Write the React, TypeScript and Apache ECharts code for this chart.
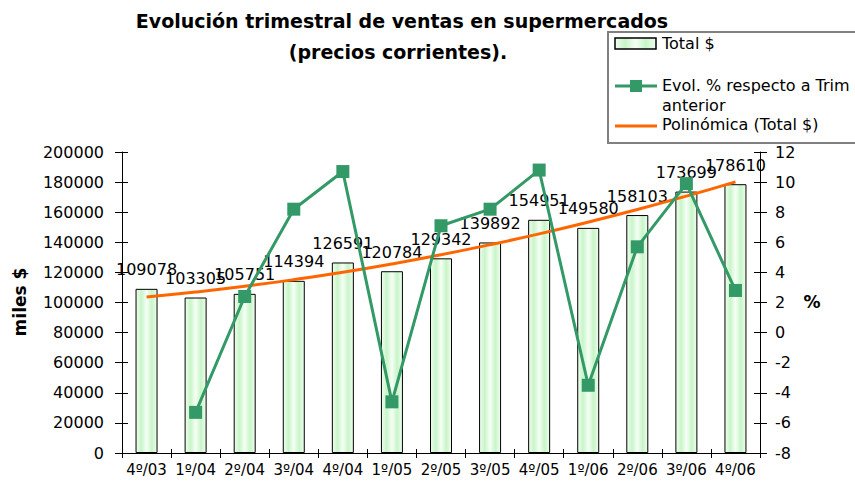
import React, { useEffect, useRef } from "react";
import * as echarts from "echarts";

const categories = ["4º/03", "1º/04", "2º/04", "3º/04", "4º/04", "1º/05", "2º/05", "3º/05", "4º/05", "1º/06", "2º/06", "3º/06", "4º/06"];
const totalValues = [109078, 103305, 105751, 114394, 126591, 120784, 129342, 139892, 154951, 149580, 158103, 173699, 178610];
const evolPct: (number | null)[] = [null, -5.3, 2.4, 8.2, 10.7, -4.6, 7.1, 8.2, 10.8, -3.5, 5.7, 9.9, 2.8];
const trendValues = [103710, 106960, 110770, 115160, 120110, 125630, 131720, 138380, 145600, 153400, 161760, 170690, 180190];

const titleLines = ["Evolución trimestral de ventas en supermercados", "(precios corrientes)."];
const legendNames = ["Total $", "Evol. % respecto a Trim", "anterior", "Polinómica (Total $)"];
const leftAxisName = "miles $";
const rightAxisName = "%";

const FONT = "DejaVu Sans";
const GREEN = "#339966";
const ORANGE = "#ff6600";

const barGradient = () =>
  new echarts.graphic.LinearGradient(0, 0, 1, 0, [
    { offset: 0, color: "#f0fdf0" },
    { offset: 0.25, color: "#c8f5c8" },
    { offset: 0.5, color: "#f6fff6" },
    { offset: 0.75, color: "#c8f5c8" },
    { offset: 1, color: "#f0fdf0" },
  ]);

const plainNum = (v: number) => String(v);

export default function App() {
  const ref = useRef<HTMLDivElement>(null);
  useEffect(() => {
    if (!ref.current) return;
    const chart = echarts.init(ref.current, undefined, { renderer: "svg" });
    const leftScale = { type: "value", min: 0, max: 200000, interval: 20000, position: "left", splitLine: { show: false } };
    const rightScale = { type: "value", min: -8, max: 12, interval: 2, position: "right", splitLine: { show: false } };
    chart.setOption({
      animation: false,
      backgroundColor: "#ffffff",
      textStyle: { fontFamily: FONT, color: "#000" },
      grid: { left: 122, right: 95, top: 152, bottom: 34, containLabel: false },
      xAxis: [
        {
          type: "category",
          data: categories,
          boundaryGap: true,
          axisLine: { onZero: false, lineStyle: { color: "#000", width: 1 } },
          axisTick: { show: true, alignWithLabel: false, length: 5, lineStyle: { color: "#000" } },
          axisLabel: { fontFamily: FONT, fontSize: 15, color: "#000", margin: 9, interval: 0 },
        },
        {
          type: "category",
          data: categories,
          position: "bottom",
          boundaryGap: true,
          axisLine: { show: false, onZero: false },
          axisTick: { show: true, inside: true, alignWithLabel: false, length: 4, lineStyle: { color: "#000" } },
          axisLabel: { show: false },
        },
      ],
      yAxis: [
        {
          ...leftScale,
          axisLine: { show: true, onZero: false, lineStyle: { color: "#000", width: 1 } },
          axisTick: { show: true, length: 7, lineStyle: { color: "#000" } },
          axisLabel: { fontFamily: FONT, fontSize: 16, color: "#000", margin: 18, formatter: plainNum },
        },
        {
          ...rightScale,
          axisLine: { show: true, onZero: false, lineStyle: { color: "#000", width: 1 } },
          axisTick: { show: true, length: 7, lineStyle: { color: "#000" } },
          axisLabel: { fontFamily: FONT, fontSize: 16, color: "#000", margin: 15, formatter: plainNum },
        },
        {
          ...leftScale,
          axisLine: { show: false, onZero: false },
          axisTick: { show: true, inside: true, length: 6, lineStyle: { color: "#000" } },
          axisLabel: { show: false },
        },
        {
          ...rightScale,
          axisLine: { show: false, onZero: false },
          axisTick: { show: true, inside: true, length: 6, lineStyle: { color: "#000" } },
          axisLabel: { show: false },
        },
      ],
      series: [
        {
          name: legendNames[0],
          type: "bar",
          data: totalValues,
          barWidth: 22,
          itemStyle: { color: barGradient(), borderColor: "#000", borderWidth: 1 },
          label: {
            show: true,
            position: "top",
            distance: 11,
            fontFamily: FONT,
            fontSize: 16,
            color: "#000",
          },
          z: 2,
        },
        {
          name: legendNames[3],
          type: "line",
          data: trendValues,
          symbol: "none",
          smooth: true,
          lineStyle: { color: ORANGE, width: 3 },
          z: 3,
        },
        {
          name: legendNames[1],
          type: "line",
          yAxisIndex: 1,
          data: evolPct,
          symbol: "rect",
          symbolSize: 13,
          itemStyle: { color: GREEN },
          lineStyle: { color: GREEN, width: 3 },
          z: 4,
        },
      ],
      graphic: [
        {
          type: "rect",
          shape: { x: 608, y: 32, width: 260, height: 111 },
          style: { fill: "#fff", stroke: "#808080", lineWidth: 2 },
          z: -1,
        },
        {
          type: "text",
          x: 402,
          y: 21,
          style: {
            text: titleLines[0],
            fontFamily: FONT,
            fontWeight: "bold",
            fontSize: 19,
            fill: "#000",
            align: "center",
            verticalAlign: "middle",
          },
          z: 10,
        },
        {
          type: "text",
          x: 398,
          y: 52,
          style: {
            text: titleLines[1],
            fontFamily: FONT,
            fontWeight: "bold",
            fontSize: 19,
            fill: "#000",
            align: "center",
            verticalAlign: "middle",
          },
          z: 10,
        },
        {
          type: "rect",
          shape: { x: 615, y: 38, width: 41, height: 11 },
          style: { fill: barGradient(), stroke: "#000", lineWidth: 1.5 },
          z: 10,
        },
        {
          type: "text",
          x: 662,
          y: 43,
          style: { text: legendNames[0], fontFamily: FONT, fontSize: 16, fill: "#000", verticalAlign: "middle" },
          z: 10,
        },
        {
          type: "line",
          shape: { x1: 615, y1: 86, x2: 657, y2: 86 },
          style: { stroke: GREEN, lineWidth: 3 },
          z: 10,
        },
        {
          type: "rect",
          shape: { x: 630, y: 80, width: 12, height: 12 },
          style: { fill: GREEN },
          z: 10,
        },
        {
          type: "text",
          x: 662,
          y: 85,
          style: { text: legendNames[1], fontFamily: FONT, fontSize: 16, fill: "#000", verticalAlign: "middle" },
          z: 10,
        },
        {
          type: "text",
          x: 662,
          y: 105,
          style: { text: legendNames[2], fontFamily: FONT, fontSize: 16, fill: "#000", verticalAlign: "middle" },
          z: 10,
        },
        {
          type: "line",
          shape: { x1: 615, y1: 126, x2: 657, y2: 126 },
          style: { stroke: ORANGE, lineWidth: 3 },
          z: 10,
        },
        {
          type: "text",
          x: 662,
          y: 124,
          style: { text: legendNames[3], fontFamily: FONT, fontSize: 16, fill: "#000", verticalAlign: "middle" },
          z: 10,
        },
        {
          type: "text",
          x: 20,
          y: 302,
          rotation: Math.PI / 2,
          style: {
            text: leftAxisName,
            fontFamily: FONT,
            fontWeight: "bold",
            fontSize: 17,
            fill: "#000",
            align: "center",
            verticalAlign: "middle",
          },
          z: 10,
        },
        {
          type: "text",
          x: 812,
          y: 302,
          style: {
            text: rightAxisName,
            fontFamily: FONT,
            fontWeight: "bold",
            fontSize: 17,
            fill: "#000",
            align: "center",
            verticalAlign: "middle",
          },
          z: 10,
        },
      ],
    });
    return () => chart.dispose();
  }, []);
  return <div ref={ref} style={{ width: 855, height: 487, position: "absolute", left: 0, top: 0 }} />;
}
